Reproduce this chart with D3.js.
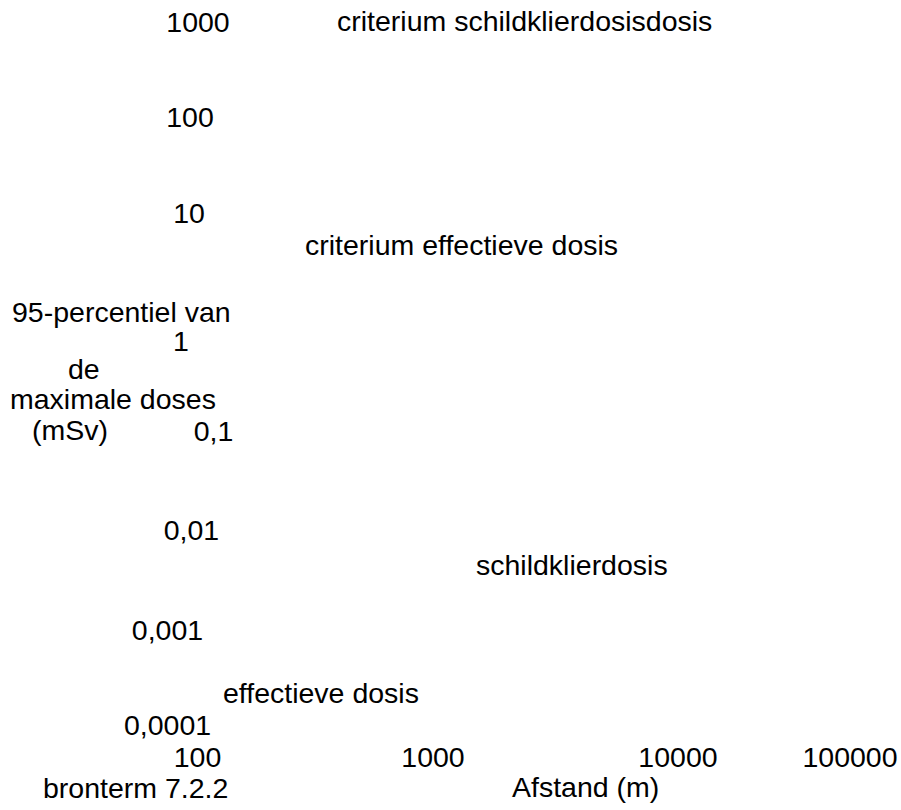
<!DOCTYPE html>
<html>
<head>
<meta charset="utf-8">
<script src="https://cdn.jsdelivr.net/npm/d3@7"></script>
<style>
  body { margin: 0; background: #fff; }
  svg text { font-family: "Liberation Sans", Arial, sans-serif; font-size: 28.5px; fill: #000; }
</style>
</head>
<body>
<div id="chart"></div>
<script>
// y axis: dose in mSv (log), labels use a decimal comma
const doseTicks = [1000, 100, 10, 1, 0.1, 0.01, 0.001, 0.0001];
const doseLabels = ["1000", "100", "10", "1", "0,1", "0,01", "0,001", "0,0001"];
// x axis: distance in m (log)
const distTicks = [100, 1000, 10000, 100000];
const distLabels = ["100", "1000", "10000", "100000"];
// series / criteria names
const seriesNames = ["schildklierdosis", "effectieve dosis"];
const criteriaNames = ["criterium schildklierdosisdosis", "criterium effectieve dosis"];
const yTitleLines = ["95-percentiel van", "de", "maximale doses", "(mSv)"];
const xTitle = "Afstand (m)";
const sourceNote = "bronterm 7.2.2";

const W = 901, H = 810;

const svg = d3.select("#chart").append("svg")
  .attr("width", W)
  .attr("height", H);

// scales (label baselines / centres)
const y = d3.scaleLog().domain([0.0001, 1000]).range([735, 31.7]);
const x = d3.scaleLog().domain([100, 100000]).range([197.5, 850]);

// small nudges so the labels sit where the original put them
const yTickNudge = [
  {dx: 8, dy: 0}, {dx: 0, dy: -5.5}, {dx: -1, dy: -9.6}, {dx: -9, dy: 18},
  {dx: 23.5, dy: 7}, {dx: 1.5, dy: 6}, {dx: -22.5, dy: 5.5}, {dx: -22.5, dy: 0}
];
const xTickNudge = [0, 18, 45.5, 0];
const yAxisX = 190;

// y tick labels
svg.append("g").attr("class", "y axis")
  .selectAll("text")
  .data(doseTicks)
  .join("text")
  .attr("text-anchor", "middle")
  .attr("x", (d, i) => yAxisX + yTickNudge[i].dx)
  .attr("y", (d, i) => y(d) + yTickNudge[i].dy)
  .text((d, i) => doseLabels[i]);

// x tick labels
svg.append("g").attr("class", "x axis")
  .selectAll("text")
  .data(distTicks)
  .join("text")
  .attr("text-anchor", "middle")
  .attr("x", (d, i) => x(d) + xTickNudge[i])
  .attr("y", 767)
  .text((d, i) => distLabels[i]);

// y title, split over lines like the original
const yTitlePos = [[12, 322], [68, 379], [10, 409], [32, 440]];
svg.append("g").attr("class", "y title")
  .selectAll("text")
  .data(yTitleLines)
  .join("text")
  .attr("x", (d, i) => yTitlePos[i][0])
  .attr("y", (d, i) => yTitlePos[i][1])
  .text(d => d);

// x title and source note
svg.append("text").attr("x", 512).attr("y", 797).text(xTitle);
svg.append("text").attr("x", 43).attr("y", 798).text(sourceNote);

// criteria labels
const criteriaPos = [[337, 31], [305, 255]];
svg.append("g").attr("class", "criteria")
  .selectAll("text")
  .data(criteriaNames)
  .join("text")
  .attr("x", (d, i) => criteriaPos[i][0])
  .attr("y", (d, i) => criteriaPos[i][1])
  .text(d => d);

// series labels
const seriesPos = [[476, 575], [223, 703]];
svg.append("g").attr("class", "series")
  .selectAll("text")
  .data(seriesNames)
  .join("text")
  .attr("x", (d, i) => seriesPos[i][0])
  .attr("y", (d, i) => seriesPos[i][1])
  .text(d => d);
</script>
</body>
</html>
